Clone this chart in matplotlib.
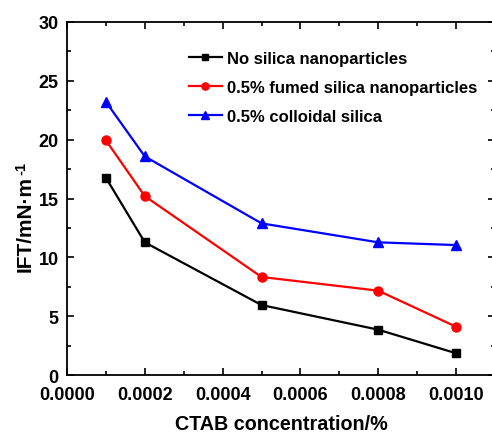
import matplotlib
matplotlib.use("Agg")
import matplotlib.pyplot as plt
from matplotlib.ticker import MultipleLocator, FormatStrFormatter

conc = [0.0001, 0.0002, 0.0005, 0.0008, 0.0010]
no_silica = [16.76, 11.28, 5.96, 3.87, 1.87]
fumed = [19.93, 15.2, 8.34, 7.18, 4.12]
colloidal = [23.2, 18.57, 12.89, 11.28, 11.05]
labels = ["No silica nanoparticles", "0.5% fumed silica nanoparticles", "0.5% colloidal silica"]

plt.rcParams['font.family'] = ['Liberation Sans', 'DejaVu Sans']
plt.rcParams['font.weight'] = 'bold'

W, H = 492, 435
fig = plt.figure(figsize=(W/100, H/100), dpi=100)
ax = fig.add_axes([67/W, 1-376.3/H, (495-67)/W, (376.3-22.7)/H])

ax.plot(conc, no_silica, '-s', color='black', lw=1.6, ms=6, label=labels[0])
ax.plot(conc, fumed, '-o', color='red', lw=1.6, ms=6.5, label=labels[1])
ax.plot(conc, colloidal, '-^', color='blue', lw=1.6, ms=7, label=labels[2])

ax.set_xlim(0, 0.0011)
ax.set_ylim(0, 30)
ax.xaxis.set_major_locator(MultipleLocator(0.0002))
ax.xaxis.set_minor_locator(MultipleLocator(0.0001))
ax.yaxis.set_major_locator(MultipleLocator(5))
ax.yaxis.set_minor_locator(MultipleLocator(2.5))
ax.xaxis.set_major_formatter(FormatStrFormatter('%.4f'))
ax.tick_params(which='both', direction='in', top=True, right=True, width=1.2, labelsize=13)
ax.tick_params(which='major', length=5)
ax.tick_params(axis='x', which='major', pad=7.5)
ax.tick_params(axis='y', which='major', pad=6)
ax.tick_params(which='minor', length=3)
for s in ax.spines.values():
    s.set_linewidth(1.3)
for lab in ax.get_xticklabels() + ax.get_yticklabels():
    lab.set_fontweight('bold')

fig.text(281/W, 1-425/H, "CTAB concentration/%", fontsize=14.2, fontweight='bold',
         ha='center', va='center')

ylab = fig.text(25/W, 1-272/H, "IFT/mN·m", fontsize=15, fontweight='bold',
                rotation=90, ha='center', va='bottom')
fig.canvas.draw()
bb = ylab.get_window_extent()
fig.text((bb.x1 - 6)/W, (bb.y1 + 1)/H, "-1", fontsize=10.5, fontweight='bold',
         rotation=90, ha='right', va='bottom', transform=fig.transFigure)

ax.legend(loc='upper left', bbox_to_anchor=(0.249, 0.96), frameon=False,
          prop={'weight': 'bold', 'size': 12}, handlelength=2.0, handletextpad=0.3,
          labelspacing=0.85, markerscale=0.8)

fig.savefig("out.png", dpi=100)
